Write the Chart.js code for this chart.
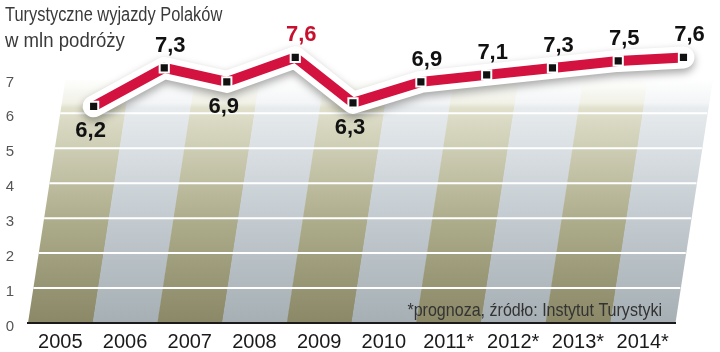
<!DOCTYPE html>
<html>
<head>
<meta charset="utf-8">
<script src="https://cdn.jsdelivr.net/npm/chart.js@4.4.1/dist/chart.umd.min.js"></script>
<style>
  html, body { margin: 0; padding: 0; background: #fff; }
  #wrap { width: 720px; height: 352px; }
</style>
</head>
<body>
<div id="wrap"><canvas id="wyjazdy" width="720" height="352"></canvas></div>
<script>
const lata = ["2005", "2006", "2007", "2008", "2009", "2010", "2011*", "2012*", "2013*", "2014*"];
const wyjazdy = [6.2, 7.3, 6.9, 7.6, 6.3, 6.9, 7.1, 7.3, 7.5, 7.6];
const osY = [0, 1, 2, 3, 4, 5, 6, 7];
const wyrozniony = "2008";
const tytul = ["Turystyczne wyjazdy Polaków", "w mln podróży"];
const zrodlo = "*prognoza, źródło: Instytut Turystyki";

// pochylenie tla (perspektywa) - ile kategorii w prawo na jednostke osi Y
const SKOS = 0.083;
const punkty = wyjazdy.map((v, i) => ({ x: i + SKOS * v, y: v }));

const SANS = "'Liberation Sans', Arial, sans-serif";

// tekst zwezony w poziomie (brak kroju condensed)
function tekstWaski(ctx, txt, x, y, sx) {
  ctx.save();
  ctx.translate(x, y);
  ctx.scale(sx, 1);
  ctx.fillText(txt, 0, 0);
  ctx.restore();
}

const tlo = {
  id: "tlo",
  beforeDraw(chart) {
    const { ctx, scales: { x, y } } = chart;
    const px = (k, v) => x.getPixelForValue(k + SKOS * v);
    const gora = 7;
    const y0 = y.getPixelForValue(0), y1 = y.getPixelForValue(gora);
    ctx.save();
    lata.forEach((_, i) => {
      const g = ctx.createLinearGradient(0, y0, 0, y1);
      if (i % 2 === 0) {
        g.addColorStop(0, "#8a8866");
        g.addColorStop(3 / 7, "#aead8c");
        g.addColorStop(6.15 / 7, "#e0e0cc");
        g.addColorStop(6.3 / 7, "#f1f1e7");
        g.addColorStop(1, "#ffffff");
      } else {
        g.addColorStop(0, "#a6afb4");
        g.addColorStop(3 / 7, "#c3cbd0");
        g.addColorStop(6.15 / 7, "#e7ebee");
        g.addColorStop(6.3 / 7, "#f3f5f6");
        g.addColorStop(1, "#ffffff");
      }
      ctx.beginPath();
      ctx.moveTo(px(i - 0.5, 0), y0);
      ctx.lineTo(px(i + 0.5, 0) + 0.5, y0);
      ctx.lineTo(px(i + 0.5, gora) + 0.5, y1);
      ctx.lineTo(px(i - 0.5, gora), y1);
      ctx.closePath();
      ctx.fillStyle = g;
      ctx.fill();
    });
    // biale linie siatki
    ctx.strokeStyle = "#ffffff";
    ctx.lineWidth = 2;
    osY.slice(1).forEach(v => {
      const yy = y.getPixelForValue(v);
      ctx.beginPath();
      ctx.moveTo(px(-0.5, v), yy);
      ctx.lineTo(px(lata.length - 0.5, v), yy);
      ctx.stroke();
    });
    // zrodlo
    ctx.fillStyle = "#333333";
    ctx.font = "19px " + SANS;
    ctx.textAlign = "right";
    ctx.textBaseline = "alphabetic";
    tekstWaski(ctx, zrodlo, chart.chartArea.right - 13, 316, 0.845);
    // tytul
    ctx.fillStyle = "#3a3a3a";
    ctx.font = "20px " + SANS;
    ctx.textAlign = "left";
    tekstWaski(ctx, tytul[0], 5, 21, 0.82);
    tekstWaski(ctx, tytul[1], 5, 47, 0.93);
    ctx.restore();
  },
  beforeDatasetDraw(chart, args) {
    if (args.index === 0) {
      const ctx = chart.ctx;
      ctx.save();
      ctx.shadowColor = "rgba(0,0,0,0.35)";
      ctx.shadowBlur = 8;
      ctx.shadowOffsetY = 4;
    }
  },
  afterDatasetDraw(chart, args) {
    if (args.index === 0) chart.ctx.restore();
  },
  afterDatasetsDraw(chart) {
    const { ctx } = chart;
    const meta = chart.getDatasetMeta(1);
    ctx.save();
    ctx.font = "bold 22px " + SANS;
    ctx.textAlign = "center";
    ctx.textBaseline = "middle";
    meta.data.forEach((pt, i) => {
      const v = wyjazdy[i];
      const prev = i > 0 ? wyjazdy[i - 1] : Infinity;
      const next = i < wyjazdy.length - 1 ? wyjazdy[i + 1] : Infinity;
      const pod = v < prev && v < next; // dolki - etykieta pod punktem
      ctx.fillStyle = lata[i] === wyrozniony ? "#c8102e" : "#111111";
      const txt = v.toFixed(1).replace(".", ",");
      if (pod) ctx.fillText(txt, pt.x - 3, pt.y + 25);
      else ctx.fillText(txt, pt.x + 6, pt.y - 22);
    });
    ctx.restore();
  }
};

const ctx = document.getElementById("wyjazdy").getContext("2d");
new Chart(ctx, {
  type: "line",
  data: {
    datasets: [{
      // biala obwodka linii
      data: punkty,
      order: 2,
      borderColor: "#ffffff",
      borderWidth: 22,
      borderCapStyle: "round",
      borderJoinStyle: "round",
      pointRadius: 0,
      tension: 0,
      clip: false
    }, {
      data: punkty,
      order: 1,
      borderColor: "#d3123f",
      borderWidth: 10,
      borderJoinStyle: "miter",
      pointStyle: "rect",
      pointRadius: 6.5,
      pointBackgroundColor: "#111111",
      pointBorderColor: "#ffffff",
      pointBorderWidth: 2,
      tension: 0,
      clip: false
    }]
  },
  options: {
    responsive: false,
    animation: false,
    layout: { padding: { top: 8, right: 45, left: 0, bottom: 0 } },
    plugins: {
      legend: { display: false },
      tooltip: { enabled: false },
      title: { display: false }
    },
    scales: {
      x: {
        type: "linear",
        min: -0.5,
        max: lata.length - 0.5,
        afterBuildTicks: s => { s.ticks = lata.map((_, i) => ({ value: i })); },
        afterFit: s => { s.height = 29; s.paddingLeft = 0; s.paddingRight = 0; },
        grid: { display: false, drawTicks: false },
        border: { display: true, color: "#1a1a1a", width: 2 },
        ticks: {
          autoSkip: false,
          maxRotation: 0,
          padding: 7,
          color: "#1a1a1a",
          font: { family: SANS, size: 20 },
          callback: v => lata[v]
        }
      },
      y: {
        min: 0,
        max: 9,
        afterBuildTicks: s => { s.ticks = osY.map(v => ({ value: v })); },
        afterFit: s => { s.width = 28; s.paddingTop = 0; s.paddingBottom = 0; },
        grid: { display: false, drawTicks: false },
        border: { display: false },
        ticks: {
          padding: 14,
          labelOffset: 4,
          color: "#555555",
          font: { family: SANS, size: 15 }
        }
      }
    }
  },
  plugins: [tlo]
});
</script>
</body>
</html>
